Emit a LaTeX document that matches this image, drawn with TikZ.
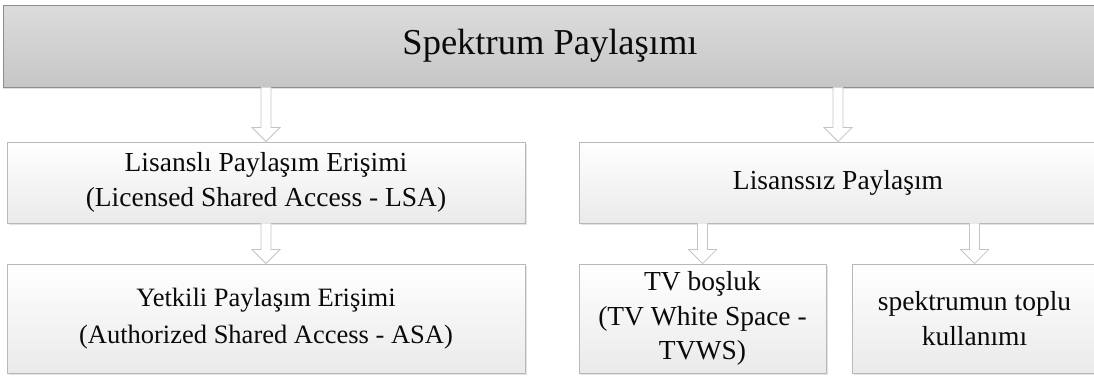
\documentclass[tikz,border=0pt]{standalone}
\usepackage{fontspec}
\setmainfont{Liberation Serif}
\usetikzlibrary{calc,shadows}
\definecolor{topfillA}{HTML}{DCDCDC}
\definecolor{topfillB}{HTML}{C6C6C6}
\definecolor{topline}{HTML}{8E8E8E}
\definecolor{boxfillA}{HTML}{FFFFFF}
\definecolor{boxfillB}{HTML}{EAEAEA}
\definecolor{boxline}{HTML}{B8B8B8}
\definecolor{arrowline}{HTML}{C4C4C4}
\definecolor{ink}{HTML}{0A0A0A}
\tikzset{
  headbox/.style={draw=topline, line width=0.9pt, top color=topfillA, bottom color=topfillB,
    inner sep=0pt, text=ink, font=\fontsize{36.5}{40}\selectfont,
    drop shadow={shadow xshift=0pt, shadow yshift=-2pt, opacity=0.25}},
  itembox/.style={draw=boxline, line width=0.9pt, top color=boxfillA, bottom color=boxfillB,
    inner sep=0pt, align=center, text=ink, font=\fontsize{27.5}{34.5}\selectfont,
    drop shadow={shadow xshift=1.5pt, shadow yshift=-1.5pt, opacity=0.22}},
  smalltext/.style={font=\fontsize{26.5}{36.5}\selectfont},
  hollowarrow/.style={draw=arrowline, fill=white, line width=0.8pt, line join=miter},
}
% block arrow from the first point straight down to the second point
\newcommand\blockarrow[2]{%
  \draw[hollowarrow] let \p1=(#1), \p2=(#2) in
    (\x1-5pt,\y1) -- (\x1-5pt,\y2+14pt) -- (\x1-14pt,\y2+14pt) -- (\x1,\y2)
    -- (\x1+14pt,\y2+14pt) -- (\x1+5pt,\y2+14pt) -- (\x1+5pt,\y1);}
\begin{document}
\begin{tikzpicture}[x=1pt,y=-1pt]
\useasboundingbox (0,0) rectangle (1094,375);
% heading bar
\node[headbox, minimum width=1094pt, minimum height=82pt] (top) at (550,46) {Spektrum Paylaşımı};
% second level
\node[itembox, minimum width=518pt, minimum height=81pt] (lsa) at (266,182.5)
  {Lisanslı Paylaşım Erişimi\\(Licensed Shared Access - LSA)};
\node[itembox, minimum width=518pt, minimum height=81pt] (lis) at (838,182.5)
  {Lisanssız Paylaşım};
% third level
\node[itembox, smalltext, minimum width=518pt, minimum height=109pt] (asa) at (266,318.5)
  {Yetkili Paylaşım Erişimi\\(Authorized Shared Access - ASA)};
\node[itembox, minimum width=247pt, minimum height=109pt] (tv) at (702.5,318.5)
  {TV boşluk\\(TV White Space -\\TVWS)};
\node[itembox, minimum width=245pt, minimum height=109pt] (sp) at (974.5,318.5)
  {spektrumun toplu\\kullanımı};
% connectors
\blockarrow{top.south -| lsa.north}{lsa.north}
\blockarrow{top.south -| lis.north}{lis.north}
\blockarrow{lsa.south}{asa.north}
\blockarrow{lis.south -| tv.north}{tv.north}
\blockarrow{lis.south -| sp.north}{sp.north}
\end{tikzpicture}
\end{document}
